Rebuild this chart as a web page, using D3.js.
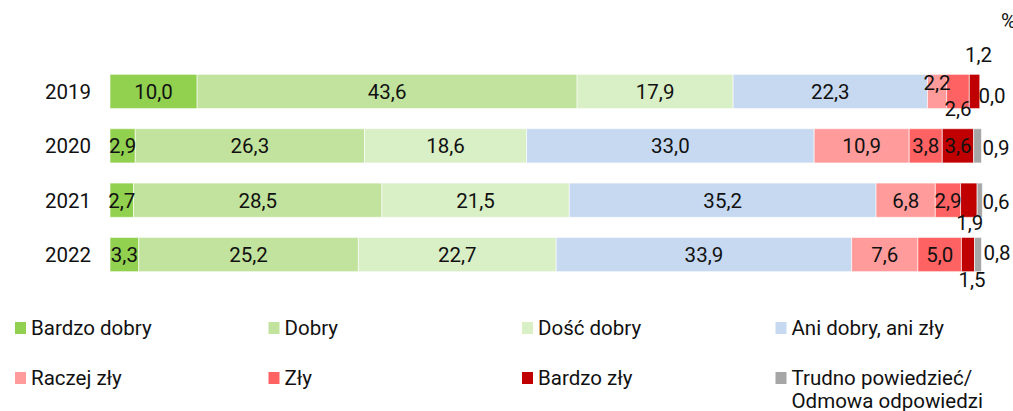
<!DOCTYPE html>
<html>
<head>
<meta charset="utf-8">
<script src="https://cdn.jsdelivr.net/npm/d3@7"></script>
<style>
  body { margin: 0; background: #fff; }
  text { font-family: Roboto, "Noto Sans", sans-serif; fill: #111; }
</style>
</head>
<body>
<div id="chart"></div>
<script>
var years = ["2019", "2020", "2021", "2022"];

var seriesNames = ["Bardzo dobry", "Dobry", "Dość dobry", "Ani dobry, ani zły",
  "Raczej zły", "Zły", "Bardzo zły", "Trudno powiedzieć/\nOdmowa odpowiedzi"];

var bardzoDobry = [10.0, 2.9, 2.7, 3.3];
var dobry = [43.6, 26.3, 28.5, 25.2];
var doscDobry = [17.9, 18.6, 21.5, 22.7];
var aniDobryAniZly = [22.3, 33.0, 35.2, 33.9];
var raczejZly = [2.2, 10.9, 6.8, 7.6];
var zly = [2.6, 3.8, 2.9, 5.0];
var bardzoZly = [1.2, 3.6, 1.9, 1.5];
var trudno = [0.0, 0.9, 0.6, 0.8];

var seriesValues = [bardzoDobry, dobry, doscDobry, aniDobryAniZly, raczejZly, zly, bardzoZly, trudno];

var colors = ["#92d050", "#c2e39d", "#d9efc6", "#c6d9f0", "#ff9b9b", "#ff6262", "#c00000", "#a6a6a6"];

var width = 1013, height = 411;
var margin = { left: 110, top: 64 };
var fontSize = "20.5px";

// label placement tweaks for the narrow segments (dx, dy in px)
var labelShift = {
  "2019|4": [0, -9],
  "2019|5": [0, 17],
  "2019|6": [4, -37],
  "2019|7": [-4, 4],
  "2020|7": [0, 2],
  "2021|6": [1, 22],
  "2021|7": [0, 1],
  "2022|6": [4, 25],
  "2022|7": [1, -2]
};

var svg = d3.select("#chart").append("svg")
  .attr("width", width)
  .attr("height", height);

var x = d3.scaleLinear()
  .domain([0, 100])
  .range([margin.left, 981.5]);

var y = d3.scaleBand()
  .domain(years)
  .range([margin.top, margin.top + 4 * 54.5])
  .paddingInner(0.37)
  .paddingOuter(0.19);

// stack the rows
var rows = years.map(function (yr, i) {
  var row = { year: yr, segs: [] };
  var acc = 0;
  for (var s = 0; s < seriesValues.length; s++) {
    var v = seriesValues[s][i];
    row.segs.push({ year: yr, s: s, v: v, x0: acc, x1: acc + v });
    acc += v;
  }
  return row;
});

var rowG = svg.selectAll("g.row")
  .data(rows)
  .enter().append("g")
  .attr("class", "row")
  .attr("transform", function (d) { return "translate(0," + y(d.year) + ")"; });

rowG.selectAll("rect")
  .data(function (d) { return d.segs; })
  .enter().append("rect")
  .attr("x", function (d) { return x(d.x0); })
  .attr("y", 0)
  .attr("width", function (d) { return Math.max(0, x(d.x1) - x(d.x0)); })
  .attr("height", y.bandwidth())
  .attr("fill", function (d) { return colors[d.s]; })
  .attr("stroke", "#fff")
  .attr("stroke-opacity", 0.6)
  .attr("stroke-width", 1);

rowG.selectAll("text.val")
  .data(function (d) { return d.segs; })
  .enter().append("text")
  .attr("class", "val")
  .attr("x", function (d) {
    var sh = labelShift[d.year + "|" + d.s];
    var dx = sh ? sh[0] : 0;
    if (d.s == 7) return x(100) + 1 + dx;
    return (x(d.x0) + x(d.x1)) / 2 + dx;
  })
  .attr("y", function (d) {
    var sh = labelShift[d.year + "|" + d.s];
    return y.bandwidth() / 2 + (sh ? sh[1] : 0);
  })
  .attr("dy", "0.36em")
  .attr("text-anchor", function (d) { return d.s == 7 ? "start" : "middle"; })
  .style("font-size", fontSize)
  .text(function (d) { return d3.format(".1f")(d.v).replace(".", ","); });

// year labels
svg.selectAll("text.year")
  .data(years)
  .enter().append("text")
  .attr("class", "year")
  .attr("x", 91)
  .attr("y", function (d) { return y(d) + y.bandwidth() / 2; })
  .attr("dy", "0.36em")
  .attr("text-anchor", "end")
  .style("font-size", fontSize)
  .text(function (d) { return d; });

svg.append("text")
  .attr("x", 1001)
  .attr("y", 21)
  .attr("dy", "0.36em")
  .style("font-size", fontSize)
  .text("%");

// legend
var legend = svg.selectAll("g.legend")
  .data(seriesNames)
  .enter().append("g")
  .attr("class", "legend")
  .attr("transform", function (d, i) {
    return "translate(" + (15 + (i % 4) * 253.5) + "," + (328 + Math.floor(i / 4) * 50) + ")";
  });

legend.append("rect")
  .attr("x", 0)
  .attr("y", -6)
  .attr("width", 11)
  .attr("height", 12)
  .attr("fill", function (d, i) { return colors[i]; });

legend.append("text")
  .attr("x", 16)
  .attr("y", 0)
  .style("font-size", fontSize)
  .selectAll("tspan")
  .data(function (d) { return d.split("\n"); })
  .enter().append("tspan")
  .attr("x", 16)
  .attr("dy", function (d, i) { return i == 0 ? "0.36em" : "1.12em"; })
  .text(function (d) { return d; });
</script>
</body>
</html>
